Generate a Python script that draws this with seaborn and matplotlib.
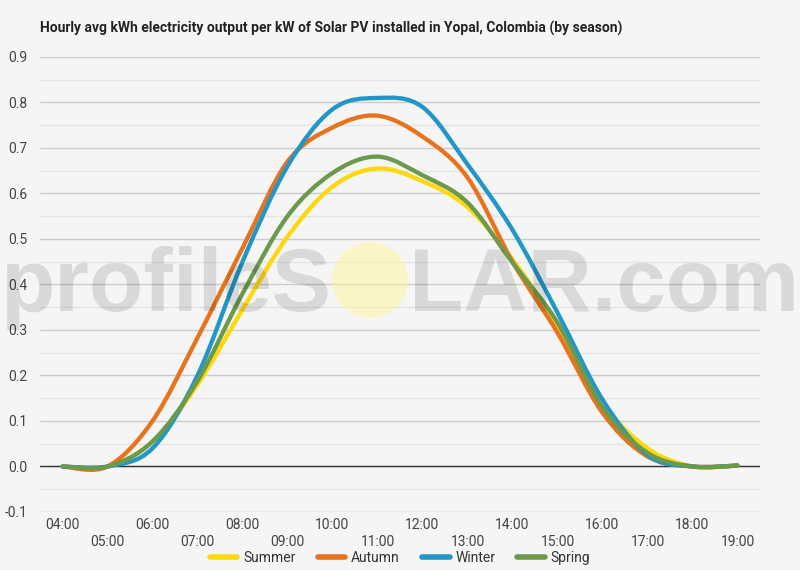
import numpy as np
import pandas as pd
import matplotlib
matplotlib.use("Agg")
import matplotlib.pyplot as plt
from matplotlib.path import Path
from matplotlib.patches import PathPatch, Circle
from matplotlib.lines import Line2D
import seaborn as sns

# hourly averages
hours = list(range(4, 20))
hour_labels = ["%02d:00" % h for h in hours]
summer = [0.0, 0.0, 0.055, 0.18, 0.345, 0.505, 0.615, 0.655, 0.627, 0.57,
          0.455, 0.31, 0.14, 0.04, 0.0, 0.002]
autumn = [0.0, 0.0, 0.10, 0.283, 0.48, 0.67, 0.745, 0.771, 0.725, 0.635,
          0.45, 0.294, 0.118, 0.022, 0.0, 0.002]
winter = [0.0, 0.0, 0.04, 0.20, 0.45, 0.66, 0.785, 0.81, 0.79, 0.664,
          0.52, 0.338, 0.147, 0.025, 0.0, 0.002]
spring = [0.0, 0.0, 0.055, 0.188, 0.38, 0.55, 0.645, 0.681, 0.64, 0.58,
          0.448, 0.316, 0.13, 0.03, 0.0, 0.002]
seasons = ["Summer", "Autumn", "Winter", "Spring"]
colors = ["#fdd80c", "#e8731f", "#2196c7", "#6b9a4c"]

df = pd.DataFrame({"hour": hours, "Summer": summer, "Autumn": autumn,
                   "Winter": winter, "Spring": spring})
long_df = df.melt(id_vars="hour", var_name="season", value_name="kwh")

sns.set_theme(style="whitegrid")
plt.rcParams["font.family"] = ["Roboto", "DejaVu Sans"]


def smooth_path(xs, ys):
    """catmull-rom style bezier path through the data points"""
    xs = np.asarray(xs, float)
    ys = np.asarray(ys, float)
    px = np.concatenate([[xs[0]], xs, [xs[-1]]])
    py = np.concatenate([[ys[0]], ys, [ys[-1]]])
    verts = [(xs[0], ys[0])]
    codes = [Path.MOVETO]
    for i in range(1, len(xs)):
        j = i + 1
        c1 = (px[j - 1] + (px[j] - px[j - 2]) / 6, py[j - 1] + (py[j] - py[j - 2]) / 6)
        c2 = (px[j] - (px[j + 1] - px[j - 1]) / 6, py[j] - (py[j + 1] - py[j - 1]) / 6)
        verts += [c1, c2, (px[j], py[j])]
        codes += [Path.CURVE4] * 3
    return Path(verts, codes)


fig = plt.figure(figsize=(8, 5.7), dpi=100)
fig.patch.set_facecolor("#f5f5f5")
ax = fig.add_axes([0.05, 0.1018, 0.90, 0.7982])
ax.set_facecolor("#f5f5f5")

for season, col in zip(seasons, colors):
    sub = long_df[long_df["season"] == season]
    ax.add_patch(PathPatch(smooth_path(sub["hour"], sub["kwh"]), fill=False,
                           edgecolor=col, lw=3.1, capstyle="round",
                           joinstyle="round", zorder=3))

ax.axhline(0, color="#333333", lw=1, zorder=2)
ax.set_xlim(3.5, 19.5)
ax.set_ylim(-0.1, 0.9)
ax.set_yticks(np.arange(-0.1, 0.91, 0.1))
ax.set_yticklabels(["%.1f" % v for v in np.arange(-0.1, 0.91, 0.1)])
ax.set_yticks(np.arange(-0.05, 0.9, 0.1), minor=True)
ax.set_xticks(hours)
ax.set_xticklabels([lab if h % 2 == 0 else "\n" + lab
                    for h, lab in zip(hours, hour_labels)], linespacing=1.3)
ax.grid(axis="x", visible=False)
ax.grid(axis="y", which="major", color="#cccccc", lw=1)
ax.grid(axis="y", which="minor", color="#e4e4e4", lw=1)
ax.tick_params(axis="both", which="both", length=0, labelsize=10,
               labelcolor="#444444")
ax.tick_params(axis="y", pad=9)
ax.tick_params(axis="x", pad=4)
for s in ax.spines.values():
    s.set_visible(False)

fig.text(40 / 800, 1 - 28 / 570, "Hourly avg kWh electricity output per kW of "
         "Solar PV installed in Yopal, Colombia (by season)", ha="left",
         va="center", fontsize=10, fontweight="bold", color="#222222")

handles = [Line2D([0], [0], color=c, lw=4) for c in colors]
fig.legend(handles, seasons, loc="center", bbox_to_anchor=(0.5, 1 - 558 / 570),
           ncol=4, frameon=False, fontsize=10, handlelength=2.0,
           columnspacing=1.6, handletextpad=0.4, labelcolor="#333333")

# translucent watermark on top of the plot
wm = dict(va="baseline", fontsize=64, color="black", alpha=0.115,
          fontweight="bold", family="Liberation Sans", zorder=5)
fig.text(331 / 800, 1 - 311 / 570, "profileS", ha="right", **wm)
fig.text(409 / 800, 1 - 311 / 570, "LAR.com", ha="left", **wm)
fig.patches.append(Circle((3.70, 5.7 - 2.80), 0.38,
                          transform=fig.dpi_scale_trans, facecolor="#fff59a",
                          alpha=0.5, edgecolor="none", zorder=5))

fig.savefig("out.png", dpi=100, facecolor=fig.get_facecolor())
